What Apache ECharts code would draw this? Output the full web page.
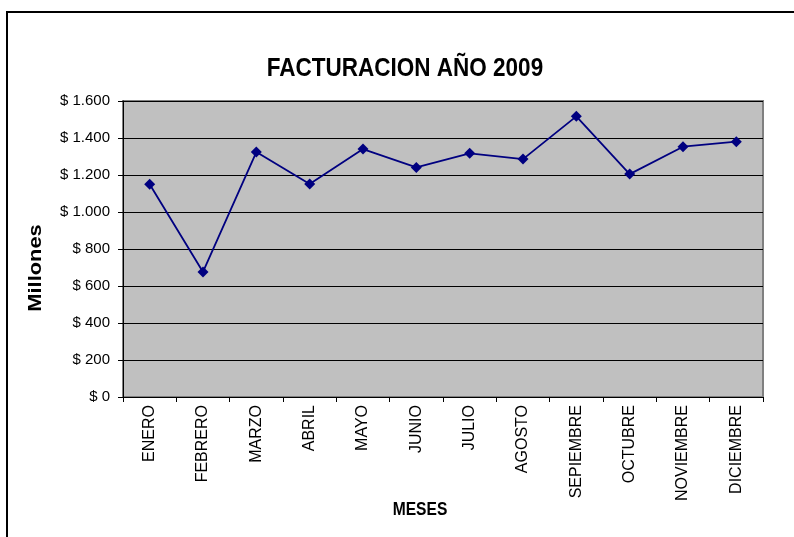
<!DOCTYPE html>
<html>
<head>
<meta charset="utf-8">
<script src="https://cdn.jsdelivr.net/npm/echarts@6/dist/echarts.min.js"></script>
<style>
html,body{margin:0;padding:0;background:#fff;}
#chart{width:794px;height:537px;}
</style>
</head>
<body>
<div id="chart"></div>
<script>
const months = ['ENERO','FEBRERO','MARZO','ABRIL','MAYO','JUNIO','JULIO','AGOSTO','SEPIEMBRE','OCTUBRE','NOVIEMBRE','DICIEMBRE'];
const facturacion = [1150, 676, 1324, 1151, 1340, 1241, 1317, 1286, 1517, 1205, 1353, 1380];
const yTickValues = [0, 200, 400, 600, 800, 1000, 1200, 1400, 1600];
const yTickLabels = ['$ 0','$ 200','$ 400','$ 600','$ 800','$ 1.000','$ 1.200','$ 1.400','$ 1.600'];
const titleText = 'FACTURACION AÑO 2009';
const xAxisTitle = 'MESES';
const yAxisTitle = 'Millones';

const chart = echarts.init(document.getElementById('chart'), null, {renderer: 'canvas'});
chart.setOption({
  animation: false,
  backgroundColor: '#ffffff',
  graphic: [
    {type: 'rect', z: -10, silent: true,
     shape: {x: 7, y: 12, width: 820, height: 600},
     style: {fill: 'none', stroke: '#000', lineWidth: 2}},
    {type: 'text', silent: true, x: 405, y: 69, scaleX: 0.9,
     style: {text: titleText, x: 0, y: 0, align: 'center', verticalAlign: 'middle',
             font: 'bold 25px "Liberation Sans"', fill: '#000'}},
    {type: 'text', silent: true, x: 420, y: 510, scaleX: 0.82,
     style: {text: xAxisTitle, x: 0, y: 0, align: 'center', verticalAlign: 'middle',
             font: 'bold 19px "Liberation Sans"', fill: '#000'}},
    {type: 'text', silent: true, x: 36, y: 268, rotation: Math.PI / 2, scaleX: 1.15,
     style: {text: yAxisTitle, x: 0, y: 0, align: 'center', verticalAlign: 'middle',
             font: 'bold 19px "Liberation Sans"', fill: '#000'}}
  ],
  grid: {
    left: 123, right: 31, top: 101, bottom: 140,
    show: true, backgroundColor: '#C0C0C0', borderColor: '#808080', borderWidth: 2
  },
  xAxis: {
    type: 'category',
    data: months,
    boundaryGap: true,
    axisLine: {lineStyle: {color: '#000', width: 1}},
    axisTick: {show: true, length: 5, alignWithLabel: false, lineStyle: {color: '#000'}},
    axisLabel: {rotate: 90, interval: 0, margin: 8, fontFamily: 'Liberation Sans', fontSize: 16, color: '#000'},
    splitLine: {show: false}
  },
  yAxis: {
    type: 'value',
    min: 0, max: 1600, interval: 200,
    axisLine: {show: true, lineStyle: {color: '#000', width: 1}},
    axisTick: {show: true, length: 5, lineStyle: {color: '#000'}},
    axisLabel: {
      margin: 13, fontFamily: 'Liberation Sans', fontSize: 15, color: '#000',
      formatter: function (v) { const i = yTickValues.indexOf(v); return i >= 0 ? yTickLabels[i] : ''; }
    },
    splitLine: {show: true, lineStyle: {color: '#000', width: 1}}
  },
  series: [{
    type: 'line',
    data: facturacion,
    symbol: 'diamond',
    symbolSize: 11,
    lineStyle: {color: '#000080', width: 1.8},
    itemStyle: {color: '#000080'},
    z: 5
  }]
});
</script>
</body>
</html>
